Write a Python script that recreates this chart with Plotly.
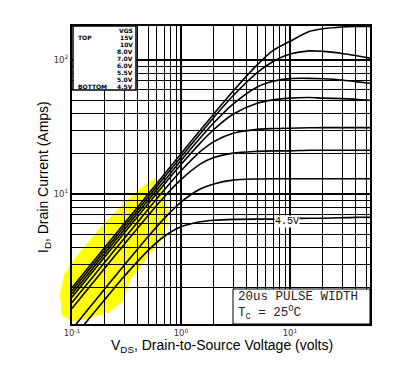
import plotly.graph_objects as go

# Drain-to-source voltage sample points (V)
vds = [0.1, 0.15, 0.2, 0.3, 0.5, 0.7, 1, 1.5, 2, 3, 5, 7, 10, 15, 20, 30, 40, 55]

# Drain current (A)
id_15v = [2.0, 3.0, 4.0, 6.0, 10.0, 14.0, 20.0, 29.9, 39.6, 58.5, 92, 118, 138, 163, 171, 176.5, 178, 178]
id_10v = [1.9, 2.85, 3.8, 5.7, 9.5, 13.3, 18.9, 28.2, 37.3, 54.1, 80.7, 97.6, 110.8, 117, 116, 112, 108, 103]
id_8v = [1.8, 2.7, 3.6, 5.4, 8.98, 12.5, 17.8, 26.2, 34.0, 46.9, 63, 69.5, 72.7, 73, 72.5, 71, 69, 67]
id_7v = [1.7, 2.55, 3.4, 5.09, 8.47, 11.8, 16.6, 24.0, 30.3, 39.4, 47.6, 50.4, 52, 52.5, 52, 51.5, 51, 50]
id_6v = [1.55, 2.32, 3.1, 4.64, 7.71, 10.7, 14.9, 20.7, 24.6, 28.4, 30.4, 30.8, 31, 31.2, 31.3, 31.3, 31.3, 31.3]
id_55v = [1.4, 2.1, 2.8, 4.19, 6.92, 9.49, 12.8, 16.7, 18.7, 20.2, 20.8, 21, 21, 21.2, 21.2, 21.2, 21.2, 21.2]
id_5v = [0.98, 1.47, 1.96, 2.93, 4.82, 6.55, 8.7, 10.9, 11.9, 12.7, 12.95, 13, 13, 13, 13, 13, 13, 13]
id_45v = [0.82, 1.23, 1.63, 2.42, 3.8, 4.82, 5.69, 6.21, 6.38, 6.47, 6.5, 6.5, 6.55, 6.6, 6.6, 6.65, 6.7, 6.7]

curves = [id_15v, id_10v, id_8v, id_7v, id_6v, id_55v, id_5v, id_45v]

legend_left = ["", "TOP", "", "", "", "", "", "", "BOTTOM"]
legend_right = ["VGS", "15V", "10V", "8.0V", "7.0V", "6.0V", "5.5V", "5.0V", "4.5V"]

x_tickvals = [0.1, 1, 10]
x_ticktext = ["10<sup>-1</sup>", "10<sup>0</sup>", "10<sup>1</sup>"]
y_tickvals = [10, 100]
y_ticktext = ["10<sup>1</sup>", "10<sup>2</sup>"]

fig = go.Figure()
for ys in curves:
    fig.add_trace(go.Scatter(x=vds, y=ys, mode="lines",
                             line=dict(color="black", width=1.6, shape="spline", smoothing=0.8),
                             showlegend=False, hoverinfo="skip"))

# the page body has an 8px margin: figure is 399x367 so the plot lands at 72..370 x 26..324
OFF = 8
W, H = 407 - OFF, 375 - OFF
L, R, T, B = 72 - OFF, 37, 26 - OFF, 51
pw, ph = W - L - R, H - T - B

def px(x):
    return (x - OFF - L) / pw

def py(y):
    return (H - B - (y - OFF)) / ph

# yellow highlighter blob (page pixel outline)
blob = [(157, 178), (166, 195), (168, 225), (160, 242), (143, 263), (130, 280), (124, 300), (110, 312),
        (90, 318), (72, 322), (62, 315), (60, 295), (64, 275), (75, 258), (100, 228), (127, 200), (148, 182)]
path = "M " + " L ".join(f"{px(a):.4f},{py(b):.4f}" for a, b in blob) + " Z"

shapes = [
    dict(type="path", path=path, xref="paper", yref="paper", fillcolor="#ffff00", line=dict(width=0), layer="below"),
    dict(type="rect", xref="paper", yref="paper", x0=px(73), x1=px(136), y0=py(90), y1=1,
         fillcolor="white", line=dict(color="black", width=1.5), layer="above"),
    dict(type="rect", xref="paper", yref="paper", x0=px(233), x1=1, y0=0, y1=py(289),
         fillcolor="white", line=dict(color="black", width=1), layer="above"),
]

annotations = []
row_y = [30.5, 37.5, 44.5, 51.5, 58.5, 65.5, 72.5, 79.5, 86.5]
lfont = dict(family="DejaVu Sans", size=6, color="black", weight="bold")
for lt, rt, yy in zip(legend_left, legend_right, row_y):
    if lt:
        annotations.append(dict(text=lt, x=px(77), y=py(yy), xref="paper", yref="paper", xanchor="left",
                                yanchor="middle", showarrow=False, borderpad=0, font=lfont))
    annotations.append(dict(text=rt, x=px(134), y=py(yy), xref="paper", yref="paper", xanchor="right",
                            yanchor="middle", showarrow=False, borderpad=0, font=lfont))

annotations += [
    dict(text="4.5V", x=px(300), y=py(221), xref="paper", yref="paper", showarrow=False, bgcolor="white",
         borderpad=0, font=dict(family="Liberation Mono", size=10, color="black")),
    dict(text="20us PULSE WIDTH", x=px(237), y=py(296.5), xref="paper", yref="paper", xanchor="left",
         yanchor="middle", showarrow=False, borderpad=0, font=dict(family="Liberation Mono", size=12.5, color="#222")),
    dict(text="T<sub>C</sub> = 25<sup>O</sup>C", x=px(237), y=py(313), xref="paper", yref="paper", xanchor="left",
         yanchor="middle", showarrow=False, borderpad=0, font=dict(family="Liberation Mono", size=12.5, color="#222")),
    dict(text="V<sub>DS</sub>, Drain-to-Source Voltage (volts)", x=px(222), y=py(356), xref="paper", yref="paper",
         showarrow=False, borderpad=0, font=dict(family="Liberation Sans", size=14, color="black")),
    dict(text="I<sub>D</sub>, Drain Current (Amps)", x=px(34), y=py(177), xref="paper", yref="paper",
         textangle=-90, showarrow=False, borderpad=0, font=dict(family="Liberation Sans", size=14, color="black")),
]

fig.update_layout(
    width=W, height=H, margin=dict(l=L, r=R, t=T, b=B),
    paper_bgcolor="white", plot_bgcolor="rgba(0,0,0,0)",
    shapes=shapes, annotations=annotations,
    xaxis=dict(type="log", range=[-1, 1.734], tickmode="array", tickvals=x_tickvals, ticktext=x_ticktext,
               showgrid=True, gridcolor="black", gridwidth=1.8, showline=True, linecolor="black", linewidth=2,
               mirror=True, ticks="", zeroline=False, tickfont=dict(family="DejaVu Sans", size=8.5, color="#333"),
               minor=dict(dtick="D1", showgrid=True, gridcolor="black", gridwidth=1, ticks="")),
    yaxis=dict(type="log", range=[0.03, 2.254], tickmode="array", tickvals=y_tickvals, ticktext=y_ticktext,
               showgrid=True, gridcolor="black", gridwidth=1.8, showline=True, linecolor="black", linewidth=2,
               mirror=True, ticks="", zeroline=False, tickfont=dict(family="DejaVu Sans", size=8.5, color="#333"),
               minor=dict(dtick="D1", showgrid=True, gridcolor="black", gridwidth=1, ticks="")),
)

fig.write_html("out.html")
